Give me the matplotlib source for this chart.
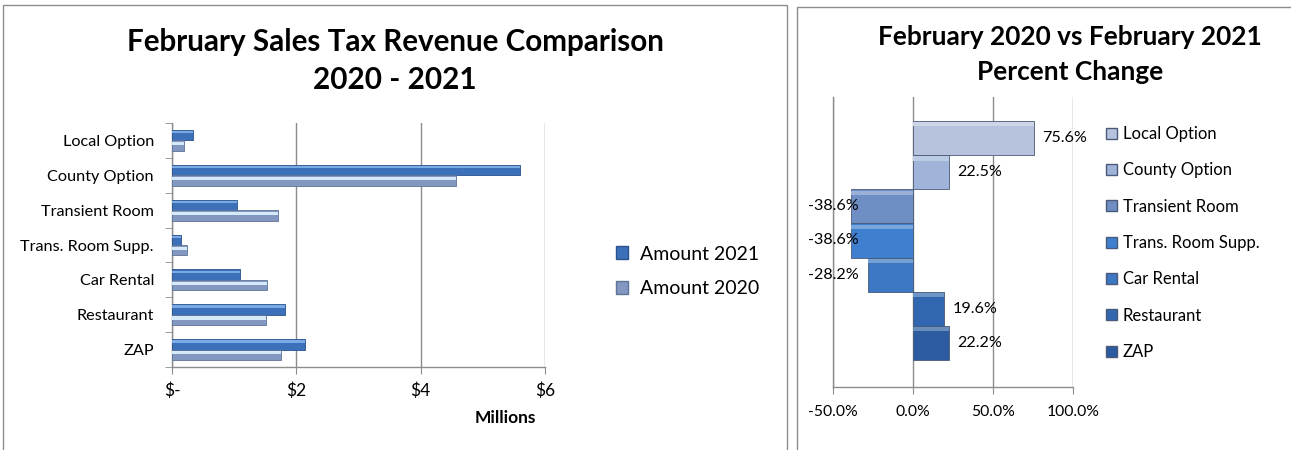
import numpy as np
import matplotlib
matplotlib.use("Agg")
import matplotlib.pyplot as plt
from matplotlib.patches import Rectangle, Patch
from matplotlib.transforms import blended_transform_factory

plt.rcParams['font.family'] = ['Lato', 'DejaVu Sans']

# Data
categories = ["Local Option", "County Option", "Transient Room", "Trans. Room Supp.",
              "Car Rental", "Restaurant", "ZAP"]
amount_2021 = [0.343, 5.60, 1.045, 0.152, 1.094, 1.818, 2.14]   # millions
amount_2020 = [0.198, 4.57, 1.70, 0.247, 1.53, 1.51, 1.75]
pct_change = [75.6, 22.5, -38.6, -38.6, -28.2, 19.6, 22.2]
x_ticks_left = [0, 2, 4, 6]
x_ticklabels_left = ["$-", "$2", "$4", "$6"]
x_ticks_right = [-50, 0, 50, 100]

# Colours
c21, c21_hi, c21_edge = '#3c71ba', '#7aaae6', '#2a538c'
c20, c20_hi, c20_edge = '#8298c0', '#d5e9f9', '#5f7398'
pct_colors = ['#b7c3dc', '#a0b4d9', '#6e8ec4', '#3f7fcf', '#3b77c2', '#3067b0', '#2c5c9f']
grid_col = '#8c8c8c'

W, H = 1291, 450
fig = plt.figure(figsize=(W / 100, H / 100), dpi=100)

def fx(px):
    return px / W

def fy(py):
    return 1 - py / H

# panel borders
fig.add_artist(Rectangle((fx(3), -0.02), fx(784), fy(5) + 0.02, transform=fig.transFigure,
                         fill=False, edgecolor='#8c8c8c', linewidth=1.0, clip_on=False))
fig.add_artist(Rectangle((fx(797), -0.02), 0.5, fy(7) + 0.02, transform=fig.transFigure,
                         fill=False, edgecolor='#8c8c8c', linewidth=1.0, clip_on=False))

# ---------------- Left chart ----------------
ax1 = fig.add_axes([fx(172), fy(367), fx(545 - 172), fy(123) - fy(367)])
n = len(categories)
ypos = np.arange(n)[::-1]
bh = 0.3
ax1.barh(ypos + bh / 2, amount_2021, height=bh, color=c21, edgecolor=c21_edge, linewidth=0.6, zorder=3)
ax1.barh(ypos + bh * 0.78, amount_2021, height=bh * 0.22, color=c21_hi, edgecolor='none', zorder=4)
ax1.barh(ypos - bh / 2, amount_2020, height=bh, color=c20, edgecolor=c20_edge, linewidth=0.6, zorder=3)
ax1.barh(ypos - bh * 0.32, amount_2020, height=bh * 0.3, color=c20_hi, edgecolor='none', zorder=4)

ax1.set_xlim(0, 6)
ax1.set_ylim(-0.5, n - 0.5)
ax1.set_xticks(x_ticks_left)
ax1.set_xticklabels(x_ticklabels_left, fontsize=12.5)
ax1.set_yticks(ypos)
ax1.set_yticklabels(categories, fontsize=11.7)
ax1.set_yticks(np.arange(n + 1) - 0.5, minor=True)
ax1.tick_params(axis='y', which='major', length=0, pad=13)
ax1.tick_params(axis='y', which='minor', length=5, color=grid_col, direction='out')
ax1.tick_params(axis='x', length=5, color=grid_col, direction='out', pad=6)
ax1.grid(axis='x', color=grid_col, linewidth=1.0, zorder=0)
for s in ['top', 'right']:
    ax1.spines[s].set_visible(False)
for s in ['left', 'bottom']:
    ax1.spines[s].set_color(grid_col)
    ax1.spines[s].set_linewidth(1.0)

fig.text(fx(395), fy(42), "February Sales Tax Revenue Comparison", ha='center', va='center',
         fontsize=21.3, fontweight='bold')
fig.text(fx(395), fy(80), "2020 - 2021", ha='center', va='center', fontsize=21.3, fontweight='bold')
fig.text(fx(505), fy(418), "Millions", ha='center', va='center', fontsize=12.5, fontweight='bold')

leg1 = fig.legend(handles=[Patch(facecolor=c21, edgecolor=c21_edge),
                           Patch(facecolor=c20, edgecolor=c20_edge)],
                  labels=["Amount 2021", "Amount 2020"], loc='upper left',
                  bbox_to_anchor=(fx(598), fy(228)), frameon=False, fontsize=14,
                  handlelength=0.65, handleheight=0.65, handletextpad=0.6, labelspacing=0.9)

# ---------------- Right chart ----------------
ax2 = fig.add_axes([fx(833), fy(387), fx(1073 - 833), fy(97) - fy(387)])
ypos2 = np.arange(n)[::-1]
ax2.barh(ypos2, pct_change, height=1.0, color=pct_colors, edgecolor='#4a5a78', linewidth=0.6, zorder=3)
hi = [matplotlib.colors.to_hex(0.7 * np.array(matplotlib.colors.to_rgb(c)) + 0.3) for c in pct_colors]
ax2.barh(ypos2 + 0.4, pct_change, height=0.12, color=hi, edgecolor='none', zorder=4)

ax2.set_xlim(-50, 100)
ax2.set_ylim(-1.29, n - 1 + 1.2)
ax2.set_xticks(x_ticks_right)
ax2.set_xticklabels([f"{v:.1f}%" for v in x_ticks_right], fontsize=11.3)
ax2.set_yticks([])
ax2.tick_params(axis='x', length=5, color=grid_col, direction='out', pad=8)
ax2.grid(axis='x', color=grid_col, linewidth=1.0, zorder=0)
for s in ['top', 'right']:
    ax2.spines[s].set_visible(False)
for s in ['left', 'bottom']:
    ax2.spines[s].set_color(grid_col)
    ax2.spines[s].set_linewidth(1.0)

trans = blended_transform_factory(ax2.transAxes, ax2.transData)
for y, v in zip(ypos2, pct_change):
    if v >= 0:
        ax2.annotate(f"{v:.1f}%", xy=(v, y), xytext=(6, 0), textcoords='offset points',
                     ha='left', va='center', fontsize=11.6)
    else:
        ax2.annotate(f"{v:.1f}%", xy=(0, y), xycoords=trans, xytext=(-18, 0),
                     textcoords='offset points', ha='left', va='center', fontsize=11.6)

fig.text(fx(1070), fy(37), "February 2020 vs February 2021", ha='center', va='center',
         fontsize=18.9, fontweight='bold')
fig.text(fx(1070), fy(72), "Percent Change", ha='center', va='center', fontsize=18.9, fontweight='bold')

leg2 = fig.legend(handles=[Patch(facecolor=c, edgecolor='#4a5a78') for c in pct_colors],
                  labels=categories, loc='upper left', bbox_to_anchor=(fx(1091), fy(111)),
                  frameon=False, fontsize=12, handlelength=0.65, handleheight=0.65,
                  handletextpad=0.35, labelspacing=1.22)

fig.savefig("out.png", dpi=100)
